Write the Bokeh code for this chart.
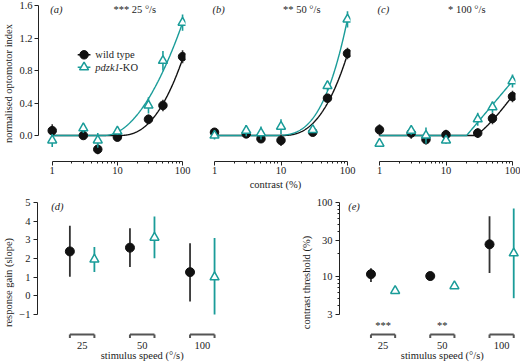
import numpy as np
from bokeh.plotting import figure
from bokeh.layouts import row, column
from bokeh.models import FixedTicker, Range1d, CustomJSTickFormatter, PrintfTickFormatter
from bokeh.core.properties import value
from bokeh.embed import file_html
from bokeh.resources import INLINE

FONT = "Liberation Serif"
TEAL = "#1a9c99"
BLACK = "#111111"
DARK = "#333333"
FS = "10.5px"

# ---------------- data ----------------
contrast = [1, 3, 5, 10, 30, 50, 100]
speeds = ["25", "50", "100"]
title_stars = ["***", "**", "*"]
thr_stars = ["***", "**", ""]

wt_25 = [0.06, 0.00, -0.17, -0.02, 0.20, 0.37, 0.97]
wt_25_err = [0.08, 0.04, 0.06, 0.05, 0.06, 0.07, 0.08]
ko_25 = [-0.06, 0.09, -0.06, 0.05, 0.37, 0.92, 1.39]
ko_25_err = [0.08, 0.06, 0.09, 0.04, 0.10, 0.12, 0.10]

wt_50 = [0.04, 0.02, -0.04, -0.06, 0.04, 0.46, 1.01]
wt_50_err = [0.05, 0.05, 0.05, 0.07, 0.04, 0.05, 0.07]
ko_50 = [0.00, 0.06, 0.03, 0.11, 0.07, 0.61, 1.43]
ko_50_err = [0.05, 0.07, 0.08, 0.09, 0.03, 0.06, 0.10]

wt_100 = [0.07, 0.03, -0.05, 0.01, 0.03, 0.21, 0.48]
wt_100_err = [0.07, 0.07, 0.06, 0.06, 0.06, 0.07, 0.07]
ko_100 = [-0.10, 0.06, 0.00, -0.06, 0.20, 0.35, 0.67]
ko_100_err = [0.04, 0.05, 0.10, 0.04, 0.08, 0.07, 0.08]

gain_wt = [2.38, 2.58, 1.27]
gain_wt_lo = [1.02, 1.55, -0.30]
gain_wt_hi = [3.75, 3.62, 2.82]
gain_ko = [1.95, 3.12, 1.00]
gain_ko_lo = [1.28, 2.02, -1.00]
gain_ko_hi = [2.62, 4.25, 3.10]

thr_wt = [10.6, 10.0, 27.0]
thr_wt_lo = [8.3, 8.8, 11.0]
thr_wt_hi = [12.8, 11.3, 64.8]
thr_ko = [6.3, 7.3, 20.4]
thr_ko_lo = [5.7, 6.9, 5.0]
thr_ko_hi = [7.3, 7.8, 83.0]

fit_amp_wt = [1.00, 1.00, 1.00]
fit_amp_ko = [0.97, 0.96, 0.97]

# ---------------- geometry ----------------
TOP_H = 196
TOP_BT = 5        # top border
FH = 156          # top frame height
TOP_BB = TOP_H - TOP_BT - FH
FW = 150          # top frame width
DEC_PX = 66.5
X0 = 10 ** (-14 / DEC_PX)
X1 = 10 ** ((FW - 14) / DEC_PX)
Y1 = 1.6
PX_UNIT = 130 / 1.6
Y0 = Y1 - FH / PX_UNIT


def tx(dx):
    return 10 ** (np.log10(X0) + dx / DEC_PX)


def ty(dy_px):
    # dy_px: pixels below the frame top
    return Y1 - dy_px / PX_UNIT


def style_common(p):
    p.outline_line_color = None
    p.xgrid.grid_line_color = None
    p.ygrid.grid_line_color = None
    p.background_fill_color = "white"
    p.border_fill_color = "white"
    for ax in p.axis:
        ax.axis_line_color = "#222222"
        ax.major_tick_line_color = "#222222"
        ax.minor_tick_line_color = "#222222"
        ax.major_label_text_font = FONT
        ax.major_label_text_font_size = FS
        ax.major_label_text_color = "#222222"
        ax.axis_label_text_font = FONT
        ax.axis_label_text_font_size = FS
        ax.axis_label_text_font_style = "normal"
        ax.axis_label_text_color = "#222222"
        ax.major_tick_out = 4
        ax.major_tick_in = 0


def add_text(p, x, y, t, align="left", style="normal", color="#222222", size=FS):
    p.text(x=[x], y=[y], text=[t], text_font=value(FONT), text_font_size=value(size),
           text_font_style=style, text_align=align, text_baseline="middle", text_color=color)


def fit_curve(thr, gain, amp):
    c = np.unique(np.concatenate([np.logspace(0, 2, 300), [thr]]))
    y = np.where(c > thr, amp * np.log10(np.maximum(c, thr) / thr) ** gain, 0.0)
    return c, y


def top_panel(i, letter, wt, wt_err, ko, ko_err, lb, rb, show_y, xlabel):
    p = figure(width=lb + FW + rb, height=TOP_H, x_axis_type="log",
               x_range=Range1d(X0, X1), y_range=Range1d(Y0, Y1),
               output_backend="svg", toolbar_location=None,
               min_border_left=lb, min_border_right=rb, min_border_top=TOP_BT,
               min_border_bottom=TOP_BB, y_axis_location="left" if show_y else None)
    style_common(p)
    xa = p.xaxis[0]
    xa.ticker = FixedTicker(ticks=[1, 10, 100],
                            minor_ticks=[2, 3, 4, 5, 6, 7, 8, 9, 20, 30, 40, 50, 60, 70, 80, 90])
    xa.formatter = CustomJSTickFormatter(code="return tick.toString();")
    xa.bounds = (1, 100)
    xa.minor_tick_out = 2
    xa.minor_tick_in = 0
    xa.major_label_standoff = 1
    xa.axis_label_standoff = 2
    if xlabel:
        xa.axis_label = xlabel
    if show_y:
        ya = p.yaxis[0]
        ya.ticker = FixedTicker(ticks=[0, 0.4, 0.8, 1.2, 1.6], minor_ticks=[])
        ya.formatter = PrintfTickFormatter(format="%.1f")
        ya.bounds = (0, 1.6)
        ya.major_label_standoff = 2
        ya.axis_label_standoff = 2
        ya.axis_label = "normalised optomotor index"

    cw, yw = fit_curve(thr_wt[i], gain_wt[i], fit_amp_wt[i])
    ck, yk = fit_curve(thr_ko[i], gain_ko[i], fit_amp_ko[i])
    p.line(cw, yw, line_color=BLACK, line_width=1.4)
    p.line(ck, yk, line_color=TEAL, line_width=1.4)

    wt_a = np.array(wt); wte = np.array(wt_err)
    ko_a = np.array(ko); koe = np.array(ko_err)
    p.segment(x0=contrast, x1=contrast, y0=wt_a - wte, y1=wt_a + wte, line_color=DARK, line_width=1.6)
    p.scatter(contrast, wt, marker="circle", size=8.5, fill_color=BLACK, line_color=BLACK)
    p.segment(x0=contrast, x1=contrast, y0=ko_a - koe, y1=ko_a + koe, line_color=TEAL, line_width=1.6)
    p.scatter(contrast, ko, marker="triangle", size=9, fill_color="white", line_color=TEAL, line_width=1.5)

    add_text(p, tx(12), ty(4), "(" + letter + ")", style="italic")
    add_text(p, tx(120), ty(4), title_stars[i] + " " + speeds[i] + " \u00b0/s", align="right")
    return p


pa = top_panel(0, "a", wt_25, wt_25_err, ko_25, ko_25_err, 35, 15, True, None)
pb = top_panel(1, "b", wt_50, wt_50_err, ko_50, ko_50_err, 0, 15, False, "contrast (%)")
pc = top_panel(2, "c", wt_100, wt_100_err, ko_100, ko_100_err, 0, 5, False, None)

# legend in panel (a), drawn by hand for the italic gene name
ly1, ly2 = ty(49.3), ty(61.7)
pa.segment(x0=[tx(40)], x1=[tx(53)], y0=[ly1], y1=[ly1], line_color=BLACK, line_width=1.4)
pa.scatter([tx(46.5)], [ly1], marker="circle", size=8.5, fill_color=BLACK, line_color=BLACK)
pa.segment(x0=[tx(40)], x1=[tx(53)], y0=[ly2], y1=[ly2], line_color=TEAL, line_width=1.4)
pa.scatter([tx(46.5)], [ly2], marker="triangle", size=9, fill_color="white", line_color=TEAL, line_width=1.5)
add_text(pa, tx(58), ly1, "wild type")
add_text(pa, tx(58), ly2, "pdzk1", style="italic")
add_text(pa, tx(58 + 24.5), ly2, "-KO")

# ---------------- bottom panels ----------------
BOT_H = 166
BOT_BT = 6
BFH = BOT_H - BOT_BT      # frame height (to page bottom)
GROUP_PX = 61.25
DODGE = 12.5 / GROUP_PX
groups = np.array([1.0, 2.0, 3.0])
AXIS_SPAN = 112.0          # pixels from top tick to bottom tick

# (d)
D_W = 297
D_LB = 33
D_FW = 210
D_Y1 = 5.0
D_PXU = AXIS_SPAN / 6.0
D_Y0 = D_Y1 - BFH / D_PXU
D_X0 = 1 - 45.5 / GROUP_PX


def dy(px):
    return D_Y1 - px / D_PXU


def dxp(dx):
    return D_X0 + dx / GROUP_PX


pd = figure(width=D_W, height=BOT_H, x_range=Range1d(D_X0, D_X0 + D_FW / GROUP_PX),
            y_range=Range1d(D_Y0, D_Y1), output_backend="svg", toolbar_location=None,
            min_border_left=D_LB, min_border_right=D_W - D_LB - D_FW, min_border_top=BOT_BT,
            min_border_bottom=0, x_axis_location=None)
style_common(pd)
ya = pd.yaxis[0]
ya.ticker = FixedTicker(ticks=[-1, 0, 1, 2, 3, 4, 5], minor_ticks=[])
ya.formatter = CustomJSTickFormatter(code="return tick < 0 ? '\u2212' + Math.abs(tick) : tick.toString();")
ya.bounds = (-1, 5)
ya.major_label_standoff = 3
ya.axis_label_standoff = 2
ya.axis_label = "response gain (slope)"

pd.segment(x0=groups - DODGE, x1=groups - DODGE, y0=gain_wt_lo, y1=gain_wt_hi, line_color=DARK, line_width=1.8)
pd.scatter(groups - DODGE, gain_wt, marker="circle", size=9, fill_color=BLACK, line_color=BLACK)
pd.segment(x0=groups + DODGE, x1=groups + DODGE, y0=gain_ko_lo, y1=gain_ko_hi, line_color=TEAL, line_width=1.8)
pd.scatter(groups + DODGE, gain_ko, marker="triangle", size=9, fill_color="white", line_color=TEAL, line_width=1.5)

# (e)
E_LB = 36
E_FW = 520 - D_W - E_LB
E_LOG1 = 2.0
E_PXD = AXIS_SPAN / (2.0 - np.log10(3.0))
E_LOG0 = E_LOG1 - BFH / E_PXD
E_X0 = 1 - 45.0 / GROUP_PX


def ey(px):
    return 10 ** (E_LOG1 - px / E_PXD)


def exp_(dx):
    return E_X0 + dx / GROUP_PX


pe = figure(width=E_LB + E_FW, height=BOT_H, x_range=Range1d(E_X0, E_X0 + E_FW / GROUP_PX),
            y_range=Range1d(10 ** E_LOG0, 10 ** E_LOG1), y_axis_type="log",
            output_backend="svg", toolbar_location=None,
            min_border_left=E_LB, min_border_right=0, min_border_top=BOT_BT, min_border_bottom=0,
            x_axis_location=None)
style_common(pe)
ya = pe.yaxis[0]
ya.ticker = FixedTicker(ticks=[3, 10, 30, 100],
                        minor_ticks=[4, 5, 6, 7, 8, 9, 20, 40, 50, 60, 70, 80, 90])
ya.formatter = CustomJSTickFormatter(code="return tick.toString();")
ya.bounds = (3, 100)
ya.minor_tick_out = 2
ya.minor_tick_in = 0
ya.major_label_standoff = 3
ya.axis_label_standoff = 2
ya.axis_label = "contrast threshold (%)"

pe.segment(x0=groups - DODGE, x1=groups - DODGE, y0=thr_wt_lo, y1=thr_wt_hi, line_color=DARK, line_width=1.8)
pe.scatter(groups - DODGE, thr_wt, marker="circle", size=9, fill_color=BLACK, line_color=BLACK)
pe.segment(x0=groups + DODGE, x1=groups + DODGE, y0=thr_ko_lo, y1=thr_ko_hi, line_color=TEAL, line_width=1.8)
pe.scatter(groups + DODGE, thr_ko, marker="triangle", size=9, fill_color="white", line_color=TEAL, line_width=1.5)

# category brackets, labels and stars (pixel offsets below frame top)
BR_PX = AXIS_SPAN + 20
for p, conv in ((pd, dy), (pe, ey)):
    yb = conv(BR_PX)
    yt = conv(BR_PX + 3.5)
    p.segment(x0=groups - DODGE, x1=groups + DODGE, y0=[yb] * 3, y1=[yb] * 3, line_color="#555555", line_width=2)
    p.segment(x0=groups - DODGE, x1=groups - DODGE, y0=[yb] * 3, y1=[yt] * 3, line_color="#555555", line_width=2)
    p.segment(x0=groups + DODGE, x1=groups + DODGE, y0=[yb] * 3, y1=[yt] * 3, line_color="#555555", line_width=2)
    p.text(x=groups, y=[conv(BR_PX + 11)] * 3, text=speeds, text_font=value(FONT), text_font_size=value(FS),
           text_align="center", text_baseline="middle", text_color="#222222")
    add_text(p, 2.0, conv(BR_PX + 21), "stimulus speed (\u00b0/s)", align="center")

pe.text(x=groups, y=[ey(BR_PX - 9)] * 3, text=thr_stars, text_font=value(FONT), text_font_size=value(FS),
        text_align="center", text_baseline="middle", text_color="#222222")

add_text(pd, dxp(14), dy(4), "(d)", style="italic")
add_text(pe, exp_(9), ey(4), "(e)", style="italic")

layout = column(row(pa, pb, pc, spacing=0), row(pd, pe, spacing=0), spacing=0)
open("out.html", "w").write(file_html(layout, INLINE))
